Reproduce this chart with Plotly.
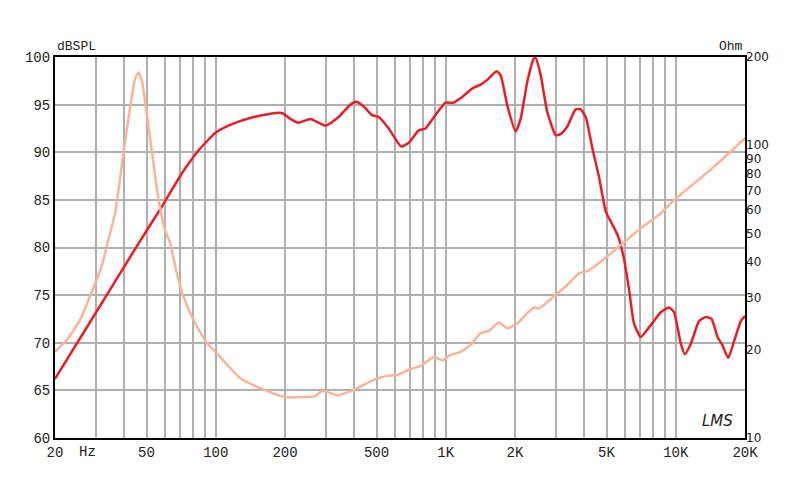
import plotly.graph_objects as go

# SPL response (dB)
spl_freq = [20, 30, 40, 46.9, 57.3, 72.2, 85.6, 100.4, 119, 141, 178, 195, 211, 229, 258, 300, 342, 385, 409,
            440, 478, 511, 565, 640, 690, 763, 816, 902, 998, 1077, 1179, 1304, 1417, 1515, 1664, 1732,
            1852, 2012, 2116, 2262, 2410, 2460, 2586, 2765, 3006, 3160, 3378, 3670, 3860, 4060, 4340,
            4638, 4960, 5304, 5610, 5922, 6264, 6586, 7044, 7534, 8048, 8608, 9354, 9836, 10520, 10952,
            11630, 12636, 13516, 14308, 15196, 15980, 16904, 17950, 19200, 20000]
spl_db = [66.2, 73.1, 78.0, 80.7, 84.0, 88.0, 90.4, 92.1, 93.0, 93.6, 94.1, 94.1, 93.5, 93.1, 93.5, 92.8, 93.7, 95.0, 95.3,
          94.8, 93.9, 93.7, 92.5, 90.6, 91.0, 92.3, 92.5, 93.9, 95.2, 95.2, 95.8, 96.7, 97.1, 97.6, 98.5, 98.1,
          94.9, 92.2, 93.5, 97.4, 99.8, 99.9, 98.1, 94.2, 91.8, 91.9, 92.7, 94.5, 94.5, 93.7, 90.4,
          87.4, 83.8, 82.4, 81.2, 79.1, 75.6, 72.0, 70.6, 71.4, 72.3, 73.2, 73.7, 73.2, 69.9, 68.8,
          69.9, 72.3, 72.7, 72.5, 70.6, 69.7, 68.4, 70.2, 72.3, 72.8]

# Impedance (Ohm)
imp_freq = [20, 22.5, 25.7, 28.9, 31.9, 34.1, 36.5, 40.3, 43.2, 44.6, 46.1, 47.7, 51.8, 56.3, 60.2, 63.4,
            67.7, 72.4, 80, 91.5, 101, 112, 128, 156, 199, 249, 271, 291, 337, 398, 486, 556, 615, 702,
            776, 887, 975, 1031, 1159, 1282, 1417, 1539, 1702, 1852, 2046, 2262, 2418, 2542, 3006, 3378,
            3796, 4130, 4718, 5766, 7044, 8608, 9836, 10874, 14688, 20000]
imp_ohm = [19.7, 21.6, 25.3, 31.6, 38.5, 47.5, 58.5, 102.8, 146.5, 169, 177, 166, 105.6, 65.9, 51.3, 46.2,
           36.5, 30.4, 25.3, 21.1, 19.5, 17.8, 16.0, 14.8, 13.8, 13.8, 13.9, 14.5, 14.0, 14.6, 15.8, 16.3,
           16.4, 17.2, 17.6, 18.9, 18.4, 19.1, 19.7, 20.8, 22.8, 23.2, 24.8, 23.7, 24.6, 26.7, 27.9, 27.7,
           30.8, 33.3, 36.5, 37.2, 40.0, 45.6, 52.0, 58.5, 65.0, 69.4, 84.5, 105.6]

grid_freqs = [20, 30, 40, 50, 60, 70, 80, 90, 100, 200, 300, 400, 500, 600, 700, 800, 900, 1000,
              2000, 3000, 4000, 5000, 6000, 7000, 8000, 9000, 10000, 20000]
x_labels = {20: "20", 50: "50", 100: "100", 200: "200", 500: "500", 1000: "1K", 2000: "2K",
            5000: "5K", 10000: "10K", 20000: "20K"}
db_ticks = [60, 65, 70, 75, 80, 85, 90, 95, 100]
ohm_ticks = [10, 20, 30, 40, 50, 60, 70, 80, 90, 100, 200]

mono = "Liberation Mono"

fig = go.Figure()
fig.add_trace(go.Scatter(x=imp_freq, y=imp_ohm, yaxis="y2", mode="lines",
                         line=dict(color="#fbb397", width=2.5, shape="spline", smoothing=0.5),
                         hoverinfo="skip", showlegend=False))
fig.add_trace(go.Scatter(x=spl_freq, y=spl_db, mode="lines",
                         line=dict(color="#ec1c24", width=2.5, shape="spline", smoothing=0.5),
                         hoverinfo="skip", showlegend=False))

fig.update_layout(
    width=800, height=484,
    margin=dict(l=47, r=63, t=49, b=54),
    paper_bgcolor="white", plot_bgcolor="white",
    xaxis=dict(type="log", range=[1.30103, 4.30103], automargin=False,
               tickvals=grid_freqs, ticktext=[x_labels.get(f, "") for f in grid_freqs],
               showgrid=True, gridcolor="#b0b0b0", gridwidth=1.5,
               showline=True, linecolor="black", linewidth=2, mirror=True,
               ticks="", tickfont=dict(family=mono, size=14, color="#222"),
               zeroline=False),
    yaxis=dict(range=[60, 100], tickvals=db_ticks, automargin=False,
               showgrid=True, gridcolor="#b0b0b0", gridwidth=1.5,
               showline=True, linecolor="black", linewidth=2, mirror=True,
               ticks="", tickfont=dict(family=mono, size=14, color="#222"),
               zeroline=False),
    yaxis2=dict(type="log", range=[1, 2.30103], overlaying="y", side="right", automargin=False,
                tickvals=ohm_ticks, ticktext=[str(v) for v in ohm_ticks],
                showgrid=False, ticks="", zeroline=False,
                tickfont=dict(family="DejaVu Sans", size=12, color="#222")),
    annotations=[
        dict(text="dBSPL", x=0, y=1, xref="paper", yref="paper", xanchor="left", yanchor="bottom",
             yshift=1, showarrow=False, font=dict(family=mono, size=13, color="#222")),
        dict(text="Ohm", x=1, y=1, xref="paper", yref="paper", xanchor="right", yanchor="bottom",
             yshift=1, showarrow=False, font=dict(family=mono, size=13, color="#222")),
        dict(text="Hz", x=0.0467, y=0, xref="paper", yref="paper", xanchor="center", yanchor="top",
             yshift=-4, showarrow=False, font=dict(family=mono, size=14, color="#222")),
        dict(text="<i>LMS</i>", x=0.985, y=0.015, xref="paper", yref="paper", xanchor="right",
             yanchor="bottom", showarrow=False, font=dict(family="DejaVu Sans", size=15, color="#222")),
    ],
)

fig.write_html("out.html")
